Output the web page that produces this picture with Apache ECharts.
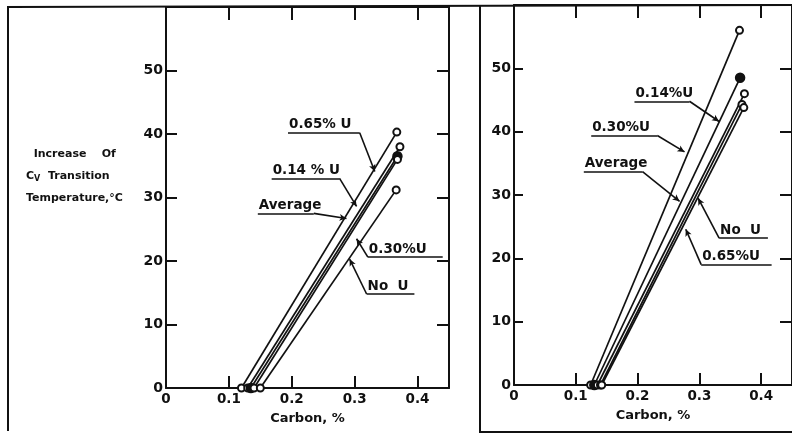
<!DOCTYPE html>
<html>
<head>
<meta charset="utf-8">
<script src="https://cdn.jsdelivr.net/npm/echarts@6/dist/echarts.min.js"></script>
<style>
  html, body { margin: 0; padding: 0; background: #fff; }
  #chart { width: 792px; height: 434px; }
</style>
</head>
<body>
<div id="chart"></div>
<script>
// Axis ticks
const carbonTicks = ['0', '0.1', '0.2', '0.3', '0.4'];
const tempTicks = ['0', '10', '20', '30', '40', '50'];

// Left panel: one straight fit per alloy, from zero-shift carbon to the top carbon level
const leftNames = ['0.65% U', '0.30%U', '0.14 % U', 'Average', 'No  U'];
const leftStartCarbon = [0.12, 0.13, 0.135, 0.14, 0.15];
const leftEndCarbon = [0.367, 0.372, 0.368, 0.368, 0.366];
const leftEndTemp = [40.3, 38.0, 36.5, 36.0, 31.2];
const leftFilled = [false, false, true, false, false];
// Label callouts: underline span (carbon), underline height (°C), arrow tip
const leftUnderFrom = [0.194, 0.321, 0.168, 0.146, 0.319];
const leftUnderTo = [0.308, 0.440, 0.276, 0.235, 0.395];
const leftUnderAt = [40.2, 20.6, 33.0, 27.5, 14.8];
const leftTipCarbon = [0.332, 0.303, 0.303, 0.287, 0.292];
const leftTipTemp = [34.1, 23.5, 28.6, 26.7, 20.3];

// Right panel
const rightNames = ['0.30%U', '0.14%U', 'No  U', 'Average', '0.65%U'];
const rightStartCarbon = [0.124, 0.13, 0.135, 0.14, 0.142];
const rightEndCarbon = [0.365, 0.366, 0.373, 0.369, 0.372];
const rightEndTemp = [56.0, 48.5, 46.0, 44.3, 43.8];
const rightFilled = [false, true, false, false, false];
const rightUnderFrom = [0.125, 0.195, 0.332, 0.113, 0.303];
const rightUnderTo = [0.232, 0.284, 0.411, 0.208, 0.417];
const rightUnderAt = [39.4, 44.8, 23.2, 33.7, 19.0];
const rightTipCarbon = [0.276, 0.332, 0.298, 0.268, 0.278];
const rightTipTemp = [36.8, 41.6, 29.5, 29.0, 24.6];

const INK = '#111';
const FONT = 'DejaVu Sans';

function panelSeries(p, names, c0, c1, t1, filled, uFrom, uTo, uAt, tipC, tipT) {
  return names.map(function (name, i) {
    // knee sits at the underline end nearest the arrow tip
    const kneeX = tipC[i] > uTo[i] ? uTo[i] : uFrom[i];
    return {
      type: 'line',
      name: name,
      xAxisIndex: p,
      yAxisIndex: p,
      data: [[c0[i], 0], [c1[i], t1[i]]],
      symbol: filled[i] ? 'circle' : 'emptyCircle',
      symbolSize: filled[i] ? 9 : 7,
      showAllSymbol: true,
      lineStyle: { color: INK, width: 1.7 },
      itemStyle: { color: INK, borderColor: INK, borderWidth: 1.5 },
      z: 3,
      silent: true,
      markLine: {
        silent: true,
        symbol: ['none', 'none'],
        animation: false,
        lineStyle: { color: INK, width: 1.6, type: 'solid' },
        data: [
          [
            {
              coord: [uFrom[i], uAt[i]],
              label: {
                show: true,
                formatter: name,
                position: 'insideStartTop',
                distance: 1,
                color: INK,
                fontFamily: FONT,
                fontWeight: 'bold',
                fontSize: 13.5
              }
            },
            { coord: [uTo[i], uAt[i]] }
          ],
          [
            { coord: [kneeX, uAt[i]], label: { show: false } },
            { coord: [tipC[i], tipT[i]], symbol: 'arrow', symbolSize: [5, 7] }
          ]
        ]
      }
    };
  });
}

function xAxes(grid) {
  const common = {
    type: 'value', gridIndex: grid, min: 0, max: 0.45, interval: 0.1,
    axisLine: { show: true, onZero: false, lineStyle: { color: INK, width: 2 } },
    splitLine: { show: false }
  };
  return [
    Object.assign({}, common, {
      position: 'bottom',
      name: 'Carbon, %', nameLocation: 'middle', nameGap: 24,
      nameTextStyle: { color: INK, fontFamily: FONT, fontWeight: 'bold', fontSize: 13 },
      axisTick: { show: true, inside: true, length: 12, lineStyle: { color: INK, width: 2 } },
      axisLabel: {
        color: INK, fontFamily: FONT, fontWeight: 'bold', fontSize: 13.5, margin: 4,
        showMaxLabel: false,
        formatter: function (v) { const s = carbonTicks[Math.round(v * 10)]; return s === undefined ? '' : s; }
      }
    }),
    Object.assign({}, common, {
      position: 'top',
      axisTick: { show: true, inside: true, length: 13, lineStyle: { color: INK, width: 2 } },
      axisLabel: { show: false }
    })
  ];
}

function yAxes(grid, leftTick) {
  const common = {
    type: 'value', gridIndex: grid, min: 0, max: 60, interval: 10,
    axisLine: { show: true, onZero: false, lineStyle: { color: INK, width: 2 } },
    splitLine: { show: false }
  };
  return [
    Object.assign({}, common, {
      position: 'left',
      axisTick: { show: true, inside: true, length: leftTick, lineStyle: { color: INK, width: 2 } },
      axisLabel: {
        color: INK, fontFamily: FONT, fontWeight: 'bold', fontSize: 14, margin: 3,
        formatter: function (v) { const s = tempTicks[Math.round(v / 10)]; return s === undefined ? '' : s; }
      }
    }),
    Object.assign({}, common, {
      position: 'right',
      axisTick: { show: true, inside: true, length: 12, lineStyle: { color: INK, width: 2 } },
      axisLabel: { show: false }
    })
  ];
}

const chart = echarts.init(document.getElementById('chart'), null, { renderer: 'canvas' });

const lx = xAxes(0), rx = xAxes(1);
const ly = yAxes(0, 11), ry = yAxes(1, 9);

// axis indices: x 0 = left bottom, 1 = right bottom, 2 = left top, 3 = right top
const option = {
  backgroundColor: '#fff',
  animation: false,
  grid: [
    { left: 166, top: 7, width: 283, height: 381 },
    { left: 514, top: 5, width: 283.5, height: 380 }
  ],
  xAxis: [lx[0], rx[0], lx[1], rx[1]],
  yAxis: [ly[0], ry[0], ly[1], ry[1]],
  series: []
    .concat(panelSeries(0, leftNames, leftStartCarbon, leftEndCarbon, leftEndTemp, leftFilled,
      leftUnderFrom, leftUnderTo, leftUnderAt, leftTipCarbon, leftTipTemp))
    .concat(panelSeries(1, rightNames, rightStartCarbon, rightEndCarbon, rightEndTemp, rightFilled,
      rightUnderFrom, rightUnderTo, rightUnderAt, rightTipCarbon, rightTipTemp)),
  graphic: [
    // figure frame
    { type: 'polyline', shape: { points: [[8, 431], [8, 7], [792, 5]] }, style: { stroke: INK, lineWidth: 2, fill: null }, silent: true },
    { type: 'polyline', shape: { points: [[480, 5], [480, 432], [792, 432]] }, style: { stroke: INK, lineWidth: 2, fill: null }, silent: true },
    // y axis title
    {
      type: 'text', left: 26, top: 143, silent: true,
      style: {
        text: '  Increase    Of\n{c|C}{s|V}  Transition\nTemperature,°C',
        fill: INK, font: 'bold 11px "DejaVu Sans"', lineHeight: 22,
        rich: {
          c: { fontFamily: FONT, fontWeight: 'bold', fontSize: 11, fill: INK },
          s: { fontFamily: FONT, fontWeight: 'bold', fontSize: 8, fill: INK, padding: [6, 0, 0, 0] }
        }
      }
    }
  ]
};

chart.setOption(option);
</script>
</body>
</html>
